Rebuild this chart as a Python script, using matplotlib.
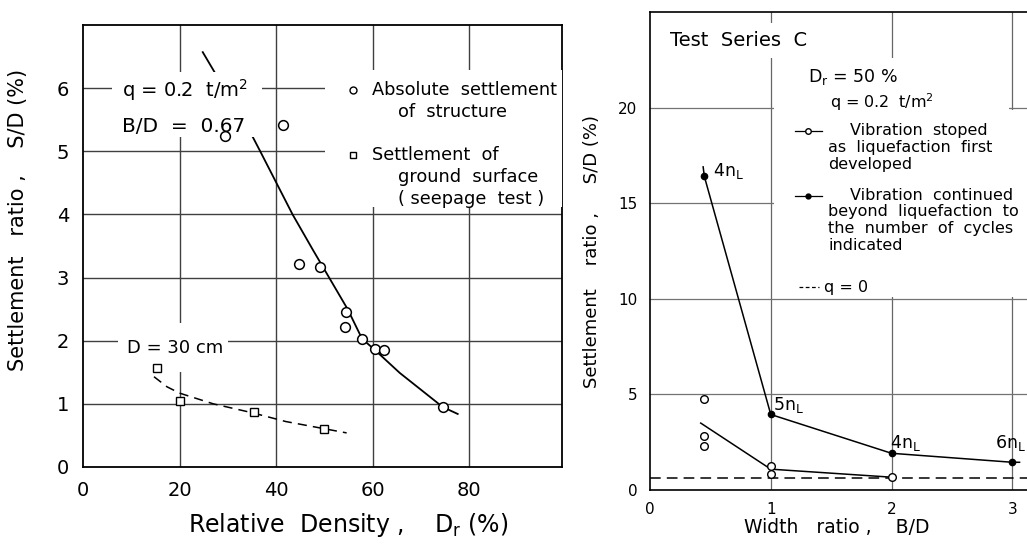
import numpy as np
import matplotlib.pyplot as plt
from matplotlib.patches import Rectangle

# left panel: settlement vs relative density
dr_struct = [29.5, 41.5, 44.7, 49.0, 54.4, 54.2, 57.8, 60.5, 62.3, 74.5]
sd_struct = [5.24, 5.41, 3.22, 3.17, 2.45, 2.22, 2.03, 1.87, 1.86, 0.95]
curve_dr = [24.8, 35.0, 36.7, 43.4, 47.6, 54.8, 57.8, 60.5, 65.6, 74.5, 77.6]
curve_sd = [6.57, 5.25, 5.0, 4.0, 3.44, 2.5, 2.03, 1.85, 1.49, 0.95, 0.84]

dr_ground = [15.3, 20.1, 35.4, 49.9]
sd_ground = [1.57, 1.05, 0.87, 0.60]
dash_dr = [14.7, 17.4, 20.0, 27.0, 35.0, 42.0, 54.6]
dash_sd = [1.43, 1.27, 1.17, 1.0, 0.86, 0.72, 0.54]

# right panel: settlement vs width ratio
bd_cont = [0.45, 1, 2, 3]
sd_cont = [16.4, 3.95, 1.92, 1.45]
cont_line_x = [0.44, 0.45, 1, 2, 3, 3.06]
cont_line_y = [16.9, 16.4, 3.95, 1.92, 1.45, 1.45]
cycles = ['4n$_\\mathregular{L}$', '5n$_\\mathregular{L}$', '4n$_\\mathregular{L}$', '6n$_\\mathregular{L}$']

bd_stop = [0.45, 0.45, 0.45, 1, 1, 2]
sd_stop = [4.75, 2.8, 2.28, 1.25, 0.83, 0.67]
stop_line_x = [0.42, 1, 2]
stop_line_y = [3.5, 1.09, 0.67]
q0_level = 0.62

fig = plt.figure(figsize=(10.27, 5.5), dpi=100)

# ---------------- left ----------------
ax = fig.add_axes([83/1027, 1-467/550, 479/1027, 442/550])
ax.set_xlim(0, 99.2)
ax.set_ylim(0, 7)
for v in [20, 40, 60, 80]:
    ax.axvline(v, color='0.25', lw=1.0, zorder=1)
for h in range(1, 7):
    ax.axhline(h, color='0.25', lw=1.0, zorder=1)

ax.plot(curve_dr, curve_sd, color='k', lw=1.3, zorder=2)
ax.plot(dash_dr, dash_sd, color='k', lw=1.1, ls=(0, (6, 4)), zorder=2)

# white masks behind text blocks
ax.add_patch(Rectangle((6.0, 5.22), 31.1, 1.04, fc='white', ec='none', zorder=3))
ax.add_patch(Rectangle((50.1, 4.12), 49.1, 2.17, fc='white', ec='none', zorder=3))
ax.add_patch(Rectangle((7.2, 1.5), 22.8, 0.78, fc='white', ec='none', zorder=3))

ax.plot(dr_struct, sd_struct, 'o', mfc='white', mec='k', ms=7, mew=1.1, zorder=4)
ax.plot(dr_ground, sd_ground, 's', mfc='white', mec='k', ms=5.5, mew=1.0, zorder=4)

ax.text(8.1, 5.97, 'q = 0.2  t/m$^2$', fontsize=14, va='center', zorder=5)
ax.text(8.1, 5.40, 'B/D  =  0.67', fontsize=14.5, va='center', zorder=5)
ax.text(9.1, 1.89, 'D = 30 cm', fontsize=13, va='center', zorder=5)

ax.plot([55.9], [5.97], 'o', mfc='white', mec='k', ms=5, zorder=5)
ax.plot([55.9], [4.94], 's', mfc='white', mec='k', ms=4.5, zorder=5)
ax.text(59.8, 5.97, 'Absolute  settlement', fontsize=12.8, va='center', zorder=5)
ax.text(65.2, 5.63, 'of  structure', fontsize=12.8, va='center', zorder=5)
ax.text(59.8, 4.94, 'Settlement  of', fontsize=12.8, va='center', zorder=5)
ax.text(65.2, 4.60, 'ground  surface', fontsize=12.8, va='center', zorder=5)
ax.text(65.2, 4.25, '( seepage  test )', fontsize=12.8, va='center', zorder=5)

ax.set_xticks([0, 20, 40, 60, 80])
ax.set_yticks(range(0, 7))
ax.tick_params(length=0, labelsize=14, pad=10)
for s in ax.spines.values():
    s.set_linewidth(1.3)
ax.set_ylabel('Settlement   ratio ,    S/D (%)', fontsize=15)
ax.yaxis.set_label_coords(-0.115, 0.56)
ax.set_xlabel('Relative  Density ,    D$_\\mathregular{r}$ (%)', fontsize=17)
ax.xaxis.set_label_coords(0.553, -0.1)

# ---------------- right ----------------
ax2 = fig.add_axes([650/1027, 1-490/550, 378/1027, 478/550])
ax2.set_xlim(0, 3.13)
ax2.set_ylim(0, 25)
for v in [1, 2, 3]:
    ax2.axvline(v, color='0.4', lw=0.9, zorder=1)
for h in [5, 10, 15, 20]:
    ax2.axhline(h, color='0.45', lw=0.9, zorder=1)

ax2.axhline(q0_level, color='k', lw=1.1, ls=(0, (7, 4)), zorder=2)
ax2.plot(cont_line_x, cont_line_y, color='k', lw=1.1, zorder=2)
ax2.plot(stop_line_x, stop_line_y, color='k', lw=1.1, zorder=2)

ax2.add_patch(Rectangle((0.08, 22.6), 1.41, 1.8, fc='white', ec='none', zorder=3))
ax2.add_patch(Rectangle((1.03, 10.1), 1.94, 12.5, fc='white', ec='none', zorder=3))
ax2.add_patch(Rectangle((1.03, 10.1), 2.1, 9.8, fc='white', ec='none', zorder=3))

ax2.plot(bd_cont, sd_cont, 'o', color='k', ms=4.5, zorder=4)
ax2.plot(bd_stop, sd_stop, 'o', mfc='white', mec='k', ms=5.5, mew=1.0, zorder=4)

lab_x = [0.52, 1.02, 1.99, 2.86]
lab_y = [16.7, 4.44, 2.45, 2.45]
for lx, ly, t in zip(lab_x, lab_y, cycles):
    ax2.text(lx, ly, t, fontsize=12.5, va='center', zorder=5)

ax2.text(0.166, 23.5, 'Test  Series  C', fontsize=14, va='center', zorder=5)
ax2.text(1.31, 21.6, 'D$_\\mathregular{r}$ = 50 %', fontsize=12.5, va='center', zorder=5)
ax2.text(1.49, 20.26, 'q = 0.2  t/m$^2$', fontsize=11.5, va='center', zorder=5)

ax2.plot([1.20, 1.425], [18.8, 18.8], color='k', lw=0.9, zorder=5)
ax2.plot([1.31], [18.8], 'o', mfc='white', mec='k', ms=4, zorder=5)
ax2.text(1.657, 18.8, 'Vibration  stoped', fontsize=11.5, va='center', zorder=5)
ax2.text(1.475, 18.3, 'as  liquefaction  first\ndeveloped', fontsize=11.5, va='top',
         linespacing=1.15, zorder=5)

ax2.plot([1.20, 1.425], [15.4, 15.4], color='k', lw=0.9, zorder=5)
ax2.plot([1.31], [15.4], 'o', color='k', ms=3.5, zorder=5)
ax2.text(1.657, 15.4, 'Vibration  continued', fontsize=11.5, va='center', zorder=5)
ax2.text(1.475, 14.95, 'beyond  liquefaction  to\nthe  number  of  cycles\nindicated',
         fontsize=11.5, va='top', linespacing=1.15, zorder=5)

ax2.plot([1.23, 1.40], [10.6, 10.6], color='k', lw=0.9, ls=(0, (3, 2)), zorder=5)
ax2.text(1.44, 10.6, 'q = 0', fontsize=11.5, va='center', zorder=5)

ax2.set_xticks([0, 1, 2, 3])
ax2.set_yticks([0, 5, 10, 15, 20])
ax2.tick_params(length=0, labelsize=11, pad=9)
ax2.spines['right'].set_visible(False)
for s in ['left', 'top', 'bottom']:
    ax2.spines[s].set_linewidth(1.2)
ax2.set_ylabel('Settlement    ratio ,     S/D (%)', fontsize=13)
ax2.yaxis.set_label_coords(-0.13, 0.5)
ax2.set_xlabel('Width   ratio ,    B/D', fontsize=13.5)
ax2.xaxis.set_label_coords(0.495, -0.058)

fig.savefig('out.png', dpi=100)
